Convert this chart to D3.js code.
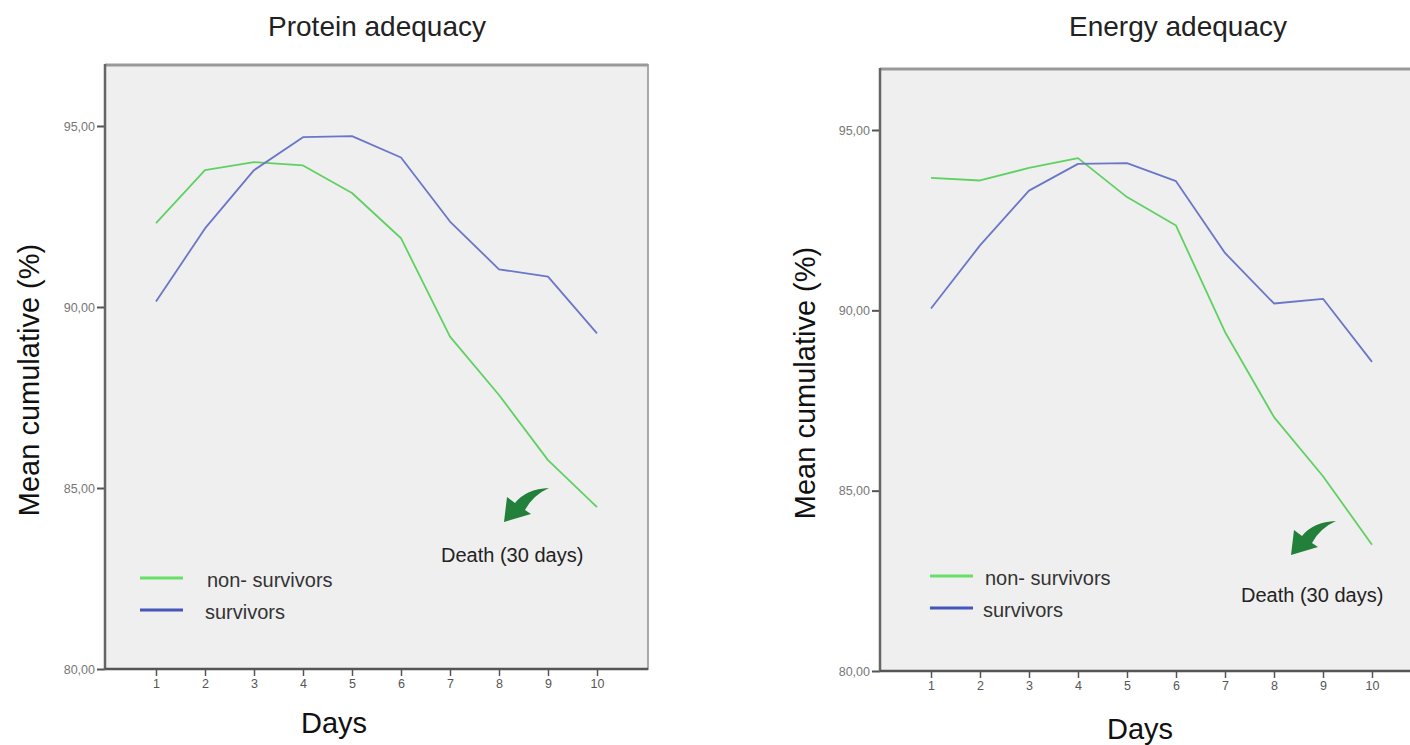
<!DOCTYPE html>
<html><head><meta charset="utf-8">
<script src="https://cdn.jsdelivr.net/npm/d3@7"></script>
<style>body{margin:0;background:#fff}svg{display:block;font-family:"Liberation Sans",Arial,sans-serif}</style>
</head><body>
<svg id="c" width="1410" height="745"></svg>
<script>
const days = [1,2,3,4,5,6,7,8,9,10];
const yTicks = [80,85,90,95];
const seriesNames = ["non- survivors","survivors"];
const proteinNonSurvivors = [92.32,93.78,94.0,93.91,93.15,91.9,89.18,87.57,85.77,84.47];
const proteinSurvivors    = [90.15,92.17,93.78,94.69,94.72,94.13,92.36,91.04,90.84,89.27];
const energyNonSurvivors  = [93.67,93.6,93.95,94.22,93.14,92.35,89.4,87.04,85.4,83.5];
const energySurvivors     = [90.05,91.8,93.32,94.06,94.08,93.58,91.59,90.19,90.32,88.57];
const titles = ["Protein adequacy","Energy adequacy"];
const annotation = "Death (30 days)";

const colors = ["#5fd163","#6a76c8"];
const svg = d3.select("#c");

const panels = [
  {title:titles[0], data:[proteinNonSurvivors,proteinSurvivors],
   fx0:105, fx1:648, fy0:65, xr:[107,646], yr:[669,126], titleX:377, titleY:36,
   ylabX:39, ylabY:380, xlabX:334, xlabY:733,
   leg:{x0:140,x1:183,y:578,tx:207}, death:{tip:[504,522], tx:441, ty:562}},
  {title:titles[1], data:[energyNonSurvivors,energySurvivors],
   fx0:880, fx1:1423, fy0:69, xr:[882,1421], yr:[671,130], titleX:1178, titleY:36,
   ylabX:815, ylabY:383, xlabX:1140, xlabY:739,
   leg:{x0:930,x1:973,y:576,tx:985}, death:{tip:[1291,555], tx:1241, ty:602}}
];

panels.forEach(p => {
  const g = svg.append("g");
  const x = d3.scaleLinear().domain([0,11]).range(p.xr);
  const y = d3.scaleLinear().domain([80,95]).range(p.yr);
  const fy1 = y(80);
  g.append("rect").attr("x",p.fx0).attr("y",p.fy0).attr("width",p.fx1-p.fx0).attr("height",fy1-p.fy0)
    .attr("fill","#efefef").attr("stroke","#a8a8a8").attr("stroke-width",2);
  g.append("line").attr("x1",p.fx0).attr("x2",p.fx1).attr("y1",p.fy0).attr("y2",p.fy0)
    .attr("stroke","#999").attr("stroke-width",3);
  g.append("text").attr("x",p.titleX).attr("y",p.titleY).attr("text-anchor","middle")
    .attr("font-size",28).attr("fill","#222").text(p.title);
  const ya = d3.axisLeft(y).tickValues(yTicks).tickSize(8).tickPadding(2).tickFormat(d=>d+",00");
  const yg = g.append("g").attr("transform",`translate(${p.fx0},0)`).call(ya);
  yg.select(".domain").remove();
  yg.selectAll(".tick line").attr("stroke","#555").attr("stroke-width",2);
  yg.selectAll(".tick text").attr("font-size",12.5).attr("fill","#777").attr("font-family","'Liberation Sans',Arial,sans-serif");
  const xa = d3.axisBottom(x).tickValues(days).tickSize(7).tickPadding(3).tickFormat(d3.format("d"));
  const xg = g.append("g").attr("transform",`translate(0,${fy1})`).call(xa);
  xg.select(".domain").remove();
  xg.selectAll(".tick line").attr("stroke","#555").attr("stroke-width",1.5);
  xg.selectAll(".tick text").attr("font-size",12.5).attr("fill","#555").attr("font-family","'Liberation Sans',Arial,sans-serif");
  g.append("line").attr("x1",p.fx0).attr("x2",p.fx0).attr("y1",p.fy0-1).attr("y2",fy1+1).attr("stroke","#666").attr("stroke-width",2.5);
  g.append("line").attr("x1",p.fx0).attr("x2",p.fx1).attr("y1",fy1).attr("y2",fy1).attr("stroke","#555").attr("stroke-width",2.5);
  g.append("text").attr("transform",`translate(${p.ylabX},${p.ylabY}) rotate(-90)`).attr("text-anchor","middle")
    .attr("font-size",29).attr("fill","#111").text("Mean cumulative (%)");
  g.append("text").attr("x",p.xlabX).attr("y",p.xlabY).attr("text-anchor","middle")
    .attr("font-size",29).attr("fill","#111").text("Days");
  const line = d3.line().x((d,i)=>x(days[i])).y(d=>y(d));
  p.data.forEach((s,k)=>{
    g.append("path").datum(s).attr("d",line).attr("fill","none")
      .attr("stroke",colors[k]).attr("stroke-width",1.8).attr("stroke-linejoin","round");
  });
  const legColors = ["#66e066","#4455bb"];
  seriesNames.forEach((n,k)=>{
    const ly = p.leg.y + k*32;
    g.append("line").attr("x1",p.leg.x0).attr("x2",p.leg.x1).attr("y1",ly).attr("y2",ly)
      .attr("stroke",legColors[k]).attr("stroke-width",3);
    g.append("text").attr("x",p.leg.tx - (k?2:0)).attr("y",ly+9).attr("font-size",20).attr("fill","#333").text(n);
  });
  const [tx,ty] = p.death.tip;
  g.append("path").attr("transform",`translate(${tx},${ty})`)
    .attr("d","M0,0 L3,-25 L11,-19 Q22,-33 45,-34 Q29,-27 21,-12 L27,-8 Z")
    .attr("fill","#22803a");
  g.append("text").attr("x",p.death.tx).attr("y",p.death.ty).attr("font-size",20).attr("fill","#222").text(annotation);
});
</script>
</body></html>
